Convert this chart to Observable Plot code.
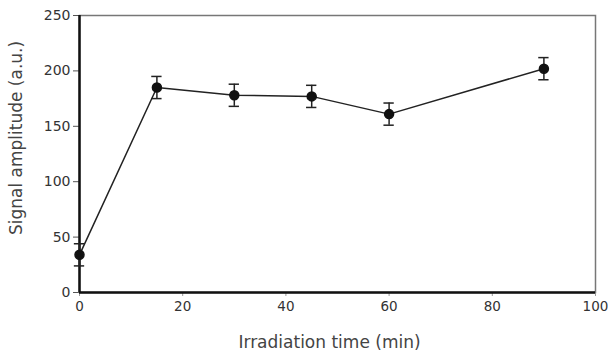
<!DOCTYPE html>
<html>
<head>
<meta charset="utf-8">
<script src="https://cdn.jsdelivr.net/npm/d3@7"></script>
<script src="https://cdn.jsdelivr.net/npm/@observablehq/plot@0.6"></script>
<style>
  html, body { margin: 0; padding: 0; background: #fff; }
  #chart svg { display: block; }
</style>
</head>
<body>
<div id="chart"></div>
<script>
const times = [0, 15, 30, 45, 60, 90];
const amplitude = [34, 185, 178, 177, 161, 202];
const errors = [10, 10, 10, 10, 10, 10];
const xTicks = [0, 20, 40, 60, 80, 100];
const yTicks = [0, 50, 100, 150, 200, 250];
const xLabel = "Irradiation time (min)";
const yLabel = "Signal amplitude (a.u.)";

const data = times.map((t, i) => ({ t, v: amplitude[i], e: errors[i] }));
const capHalf = 1;

const chart = Plot.plot({
  width: 608,
  height: 362,
  marginLeft: 79,
  marginRight: 13,
  marginTop: 15,
  marginBottom: 70,
  style: { fontFamily: "'DejaVu Sans', sans-serif", fontSize: "14px", color: "#333", background: "#fff" },
  x: { domain: [0, 100], ticks: xTicks },
  y: { domain: [0, 250], ticks: yTicks },
  marks: [
    Plot.axisX({ ticks: xTicks, tickSize: 4, tickPadding: 5, label: null, fontSize: 13.5, fill: "#333", stroke: "#999" }),
    Plot.axisY({ ticks: yTicks, tickSize: 6, tickPadding: 3, label: null, fontSize: 14, fill: "#333", stroke: "#555" }),
    Plot.frame({ stroke: "#777", strokeWidth: 1.5 }),
    Plot.ruleX([0], { stroke: "#111", strokeWidth: 2.5 }),
    Plot.ruleY([0], { stroke: "#111", strokeWidth: 2.5 }),
    Plot.line(data, { x: "t", y: "v", stroke: "#222", strokeWidth: 1.5 }),
    Plot.ruleX(data, { x: "t", y1: d => d.v - d.e, y2: d => d.v + d.e, stroke: "#222", strokeWidth: 1.5 }),
    Plot.ruleY(data, { y: d => d.v + d.e, x1: d => d.t - capHalf, x2: d => d.t + capHalf, stroke: "#222", strokeWidth: 1.5 }),
    Plot.ruleY(data, { y: d => d.v - d.e, x1: d => d.t - capHalf, x2: d => d.t + capHalf, stroke: "#222", strokeWidth: 1.5 }),
    Plot.dot(data, { x: "t", y: "v", r: 4.5, fill: "#111", stroke: "#111" }),
    Plot.text([xLabel], { frameAnchor: "bottom", textAnchor: "middle", dx: -8, dy: 50, text: d => d, fontSize: 17, fill: "#444", lineAnchor: "middle" }),
    Plot.text([yLabel], { frameAnchor: "left", textAnchor: "middle", dx: -63, dy: -16, rotate: -90, text: d => d, fontSize: 17, fill: "#444", lineAnchor: "middle" })
  ]
});
document.getElementById("chart").appendChild(chart);
</script>
</body>
</html>
